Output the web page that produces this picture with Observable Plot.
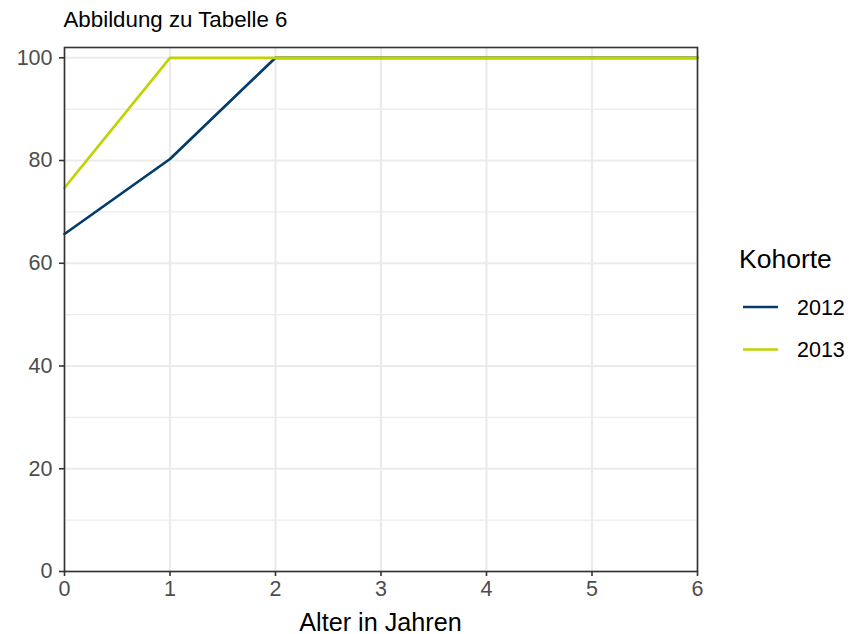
<!DOCTYPE html>
<html>
<head>
<meta charset="utf-8">
<script src="https://cdn.jsdelivr.net/npm/d3@7"></script>
<script src="https://cdn.jsdelivr.net/npm/@observablehq/plot@0.6"></script>
<style>
  html, body { margin: 0; padding: 0; background: white; }
  #chart { width: 852px; height: 634px; }
</style>
</head>
<body>
<div id="chart"></div>
<script>
const titleText = "Abbildung zu Tabelle 6";
const xLabel = "Alter in Jahren";
const legendTitle = "Kohorte";
const cohorts = ["2012", "2013"];
const cohortColors = ["#033c6b", "#bfd300"];
const ages = [0, 1, 2, 3, 4, 5, 6];
const values2012 = [65.7, 80.3, 100, 100, 100, 100, 100];
const values2013 = [74.7, 100, 100, 100, 100, 100, 100];
const xTicks = [0, 1, 2, 3, 4, 5, 6];
const yTicks = [0, 20, 40, 60, 80, 100];
const yMinor = [10, 30, 50, 70, 90];

const data = [
  ...ages.map((a, i) => ({age: a, value: values2012[i], kohorte: cohorts[0]})),
  ...ages.map((a, i) => ({age: a, value: values2013[i], kohorte: cohorts[1]}))
];

const font = "'Liberation Sans', Arial, Helvetica, sans-serif";

const chart = Plot.plot({
  width: 852,
  height: 634,
  marginLeft: 64,
  marginRight: 155,
  marginTop: 47,
  marginBottom: 63,
  style: {fontFamily: font, fontSize: "21.5px", background: "white", overflow: "visible"},
  x: {domain: [0, 6]},
  y: {domain: [0, 102]},
  color: {domain: cohorts, range: cohortColors},
  marks: [
    Plot.gridY(yMinor, {stroke: "#ebebeb", strokeOpacity: 1, strokeWidth: 1.2}),
    Plot.gridY(yTicks, {stroke: "#ebebeb", strokeOpacity: 1, strokeWidth: 2.2}),
    Plot.gridX(xTicks, {stroke: "#ebebeb", strokeOpacity: 1, strokeWidth: 2.2}),
    Plot.line(data, {x: "age", y: "value", z: "kohorte", stroke: "kohorte", strokeWidth: 2.7}),
    Plot.frame({stroke: "#333333", strokeWidth: 1.6}),
    Plot.axisX(xTicks, {tickSize: 5, tickPadding: 4, label: null, stroke: "#333333", strokeWidth: 1.6, fill: "#4d4d4d", tickFormat: d => String(d)}),
    Plot.axisY(yTicks, {tickSize: 5, tickPadding: 7, label: null, stroke: "#333333", strokeWidth: 1.6, fill: "#4d4d4d", tickFormat: d => String(d)})
  ]
});

document.getElementById("chart").appendChild(chart);

const svg = d3.select(chart);
const g = svg.append("g").attr("font-family", font).attr("text-anchor", "start");

g.append("text")
  .attr("x", 63.5).attr("y", 26.5)
  .attr("text-anchor", "start")
  .attr("font-size", "22.3px").attr("fill", "#000")
  .text(titleText);

g.append("text")
  .attr("x", 380.5).attr("y", 630.5)
  .attr("text-anchor", "middle")
  .attr("font-size", "25.2px").attr("fill", "#000")
  .text(xLabel);

g.append("text")
  .attr("x", 739).attr("y", 267.5)
  .attr("text-anchor", "start")
  .attr("font-size", "26.5px").attr("fill", "#000")
  .text(legendTitle);

const legendY = [307, 349.5];
cohorts.forEach((c, i) => {
  g.append("line")
    .attr("x1", 743).attr("x2", 778)
    .attr("y1", legendY[i]).attr("y2", legendY[i])
    .attr("stroke", cohortColors[i]).attr("stroke-width", 2.7);
  g.append("text")
    .attr("x", 797).attr("y", legendY[i] + 7.5)
    .attr("text-anchor", "start")
    .attr("font-size", "21.5px").attr("fill", "#000")
    .text(c);
});
</script>
</body>
</html>
